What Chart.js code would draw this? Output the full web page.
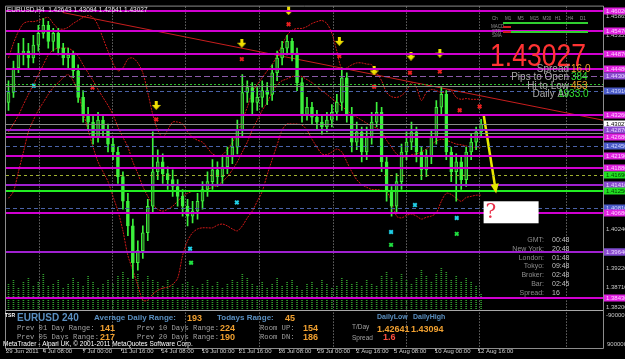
<!DOCTYPE html>
<html>
<head>
<meta charset="utf-8">
<script src="https://cdn.jsdelivr.net/npm/chart.js"></script>
<style>
html, body { margin: 0; padding: 0; background: #000; }
canvas { display: block; }
</style>
</head>
<body>
<canvas id="eurusd-h4" width="625" height="359"></canvas>
<script>
// EURUSD H4, 29 Jun - 12 Aug 2011. one entry = roughly two H4 bars
var opens = [1.4360, 1.4386, 1.4451, 1.4490, 1.4495, 1.4477, 1.4511, 1.4542, 1.4563, 1.4521,
    1.4542, 1.4503, 1.4477, 1.4485, 1.4443, 1.4373, 1.4328, 1.4308, 1.4268, 1.4313,
    1.4287, 1.4250, 1.4229, 1.4164, 1.4099, 1.4034, 1.3937, 1.3969, 1.4016, 1.4086,
    1.4177, 1.4203, 1.4172, 1.4156, 1.4138, 1.4112, 1.4086, 1.4060, 1.4073, 1.4099,
    1.4130, 1.4151, 1.4182, 1.4164, 1.4190, 1.4216, 1.4242, 1.4287, 1.4386, 1.4399,
    1.4360, 1.4373, 1.4391, 1.4381, 1.4438, 1.4477, 1.4503, 1.4521, 1.4490, 1.4412,
    1.4328, 1.4347, 1.4321, 1.4308, 1.4295, 1.4313, 1.4334, 1.4360, 1.4425, 1.4328,
    1.4255, 1.4282, 1.4229, 1.4268, 1.4308, 1.4334, 1.4203, 1.4125, 1.4086, 1.4151,
    1.4229, 1.4255, 1.4282, 1.4229, 1.4182, 1.4216, 1.4268, 1.4347, 1.4381, 1.4229,
    1.4177, 1.4203, 1.4156, 1.4229, 1.4255, 1.4282];
var highs = [1.4417, 1.4469, 1.4516, 1.4529, 1.4516, 1.4537, 1.4563, 1.4581, 1.4574, 1.4555,
    1.4555, 1.4516, 1.4503, 1.4495, 1.4459, 1.4391, 1.4347, 1.4328, 1.4334, 1.4328,
    1.4303, 1.4268, 1.4242, 1.4177, 1.4120, 1.4052, 1.3995, 1.4034, 1.4104, 1.4282,
    1.4235, 1.4224, 1.4190, 1.4182, 1.4156, 1.4130, 1.4104, 1.4099, 1.4120, 1.4151,
    1.4177, 1.4209, 1.4203, 1.4216, 1.4242, 1.4268, 1.4313, 1.4433, 1.4417, 1.4412,
    1.4399, 1.4417, 1.4412, 1.4459, 1.4495, 1.4521, 1.4537, 1.4529, 1.4503, 1.4425,
    1.4373, 1.4360, 1.4339, 1.4328, 1.4334, 1.4354, 1.4381, 1.4451, 1.4438, 1.4347,
    1.4308, 1.4295, 1.4295, 1.4334, 1.4360, 1.4347, 1.4216, 1.4138, 1.4172, 1.4250,
    1.4282, 1.4308, 1.4295, 1.4242, 1.4235, 1.4287, 1.4365, 1.4399, 1.4391, 1.4242,
    1.4224, 1.4216, 1.4242, 1.4276, 1.4295, 1.4315];
var lows = [1.4339, 1.4373, 1.4438, 1.4459, 1.4451, 1.4464, 1.4495, 1.4529, 1.4503, 1.4495,
    1.4485, 1.4459, 1.4451, 1.4425, 1.4360, 1.4308, 1.4287, 1.4250, 1.4255, 1.4268,
    1.4229, 1.4209, 1.4146, 1.4078, 1.4008, 1.3896, 1.3917, 1.3948, 1.3995, 1.4068,
    1.4156, 1.4146, 1.4130, 1.4112, 1.4086, 1.4060, 1.4034, 1.4042, 1.4052, 1.4078,
    1.4112, 1.4130, 1.4138, 1.4146, 1.4172, 1.4198, 1.4224, 1.4268, 1.4360, 1.4328,
    1.4339, 1.4347, 1.4354, 1.4365, 1.4417, 1.4459, 1.4485, 1.4469, 1.4391, 1.4308,
    1.4313, 1.4303, 1.4287, 1.4276, 1.4282, 1.4295, 1.4313, 1.4339, 1.4308, 1.4229,
    1.4235, 1.4203, 1.4209, 1.4250, 1.4295, 1.4177, 1.4099, 1.4060, 1.4068, 1.4130,
    1.4209, 1.4235, 1.4203, 1.4156, 1.4164, 1.4198, 1.4250, 1.4328, 1.4209, 1.4151,
    1.4099, 1.4130, 1.4138, 1.4209, 1.4235, 1.4268];
var closes = [1.4386, 1.4451, 1.4490, 1.4495, 1.4477, 1.4511, 1.4542, 1.4563, 1.4521, 1.4542,
    1.4503, 1.4477, 1.4485, 1.4443, 1.4373, 1.4328, 1.4308, 1.4268, 1.4313, 1.4287,
    1.4250, 1.4229, 1.4164, 1.4099, 1.4034, 1.3937, 1.3969, 1.4016, 1.4086, 1.4177,
    1.4203, 1.4172, 1.4156, 1.4138, 1.4112, 1.4086, 1.4060, 1.4073, 1.4099, 1.4130,
    1.4151, 1.4182, 1.4164, 1.4190, 1.4216, 1.4242, 1.4287, 1.4386, 1.4399, 1.4360,
    1.4373, 1.4391, 1.4381, 1.4438, 1.4477, 1.4503, 1.4521, 1.4490, 1.4412, 1.4328,
    1.4347, 1.4321, 1.4308, 1.4295, 1.4313, 1.4334, 1.4360, 1.4425, 1.4328, 1.4255,
    1.4282, 1.4229, 1.4268, 1.4308, 1.4334, 1.4203, 1.4125, 1.4086, 1.4151, 1.4229,
    1.4255, 1.4282, 1.4229, 1.4182, 1.4216, 1.4268, 1.4347, 1.4381, 1.4229, 1.4177,
    1.4203, 1.4156, 1.4229, 1.4255, 1.4282, 1.43027];
var volumes = [2600, 3100, 2200, 2800, 3300, 2500, 2900, 3600, 2400, 2700,
    3000, 2300, 2600, 3200, 2800, 2500, 3400, 2900, 2200, 2700,
    3000, 2600, 3500, 3800, 3300, 4100, 3600, 2900, 3400, 3100,
    2800, 2500, 3000, 2700, 2300, 2600, 2900, 2400, 2200, 2700,
    3000, 2500, 2800, 2300, 2600, 3100, 2900, 3700, 3200, 2600,
    2400, 2900, 2200, 2700, 3300, 2500, 2800, 3000, 2400, 2100,
    2600, 2900, 2300, 3100, 2700, 2200, 2500, 3300, 3000, 2600,
    2800, 2400, 3100, 2700, 2500, 3500, 3900, 3200, 2800, 3600,
    3000, 2700, 3300, 4100, 3400, 2900, 3700, 4300, 3800, 3100,
    3500, 2900, 3300, 2800, 2400, 1600];

// bollinger bands
var bandUpper = [1.4477, 1.4516, 1.4547, 1.4568, 1.4573, 1.4573, 1.4576, 1.4581, 1.4584, 1.4568,
    1.4555, 1.4553, 1.4558, 1.4568, 1.4576, 1.4584, 1.4589, 1.4584, 1.4563, 1.4529,
    1.4495, 1.4464, 1.4443, 1.4451, 1.4474, 1.4477, 1.4464, 1.4438, 1.4386, 1.4328,
    1.4287, 1.4268, 1.4287, 1.4308, 1.4308, 1.4303, 1.4282, 1.4268, 1.4260, 1.4255,
    1.4240, 1.4224, 1.4219, 1.4222, 1.4235, 1.4255, 1.4276, 1.4313, 1.4347, 1.4386,
    1.4407, 1.4425, 1.4443, 1.4459, 1.4485, 1.4511, 1.4537, 1.4550, 1.4555, 1.4555,
    1.4560, 1.4568, 1.4573, 1.4576, 1.4568, 1.4542, 1.4495, 1.4448, 1.4451, 1.4459,
    1.4464, 1.4464, 1.4461, 1.4459, 1.4438, 1.4417, 1.4386, 1.4375, 1.4373, 1.4378,
    1.4391, 1.4412, 1.4399, 1.4365, 1.4386, 1.4394, 1.4391, 1.4386, 1.4388, 1.4391,
    1.4373, 1.4368, 1.4370, 1.4368, 1.4368, 1.4368];
var bandMiddle = [1.4282, 1.4303, 1.4326, 1.4354, 1.4381, 1.4407, 1.4433, 1.4459, 1.4485, 1.4498,
    1.4503, 1.4503, 1.4503, 1.4495, 1.4482, 1.4459, 1.4438, 1.4417, 1.4394, 1.4373,
    1.4352, 1.4328, 1.4295, 1.4268, 1.4242, 1.4203, 1.4172, 1.4138, 1.4112, 1.4091,
    1.4078, 1.4073, 1.4078, 1.4086, 1.4099, 1.4112, 1.4120, 1.4125, 1.4125, 1.4125,
    1.4130, 1.4136, 1.4141, 1.4151, 1.4164, 1.4182, 1.4203, 1.4229, 1.4255, 1.4287,
    1.4313, 1.4339, 1.4360, 1.4386, 1.4407, 1.4417, 1.4422, 1.4428, 1.4430, 1.4428,
    1.4420, 1.4412, 1.4401, 1.4391, 1.4381, 1.4370, 1.4360, 1.4349, 1.4339, 1.4328,
    1.4321, 1.4313, 1.4305, 1.4297, 1.4292, 1.4282, 1.4260, 1.4242, 1.4224, 1.4216,
    1.4216, 1.4222, 1.4224, 1.4229, 1.4237, 1.4248, 1.4258, 1.4263, 1.4260, 1.4255,
    1.4250, 1.4248, 1.4245, 1.4242, 1.4242, 1.4242];
var bandLower = [1.4107, 1.4125, 1.4177, 1.4229, 1.4282, 1.4313, 1.4339, 1.4360, 1.4381, 1.4399,
    1.4412, 1.4425, 1.4433, 1.4417, 1.4386, 1.4334, 1.4287, 1.4242, 1.4203, 1.4177,
    1.4151, 1.4112, 1.4073, 1.4021, 1.3956, 1.3917, 1.3877, 1.3838, 1.3838, 1.3854,
    1.3864, 1.3870, 1.3872, 1.3880, 1.3896, 1.3956, 1.3995, 1.4016, 1.4026, 1.4029,
    1.4029, 1.4029, 1.4036, 1.4039, 1.4034, 1.4026, 1.4021, 1.4034, 1.4055, 1.4073,
    1.4099, 1.4125, 1.4169, 1.4209, 1.4248, 1.4287, 1.4303, 1.4303, 1.4303, 1.4300,
    1.4287, 1.4263, 1.4242, 1.4224, 1.4222, 1.4229, 1.4237, 1.4229, 1.4203, 1.4177,
    1.4156, 1.4143, 1.4136, 1.4130, 1.4130, 1.4128, 1.4125, 1.4099, 1.4060, 1.4055,
    1.4062, 1.4065, 1.4060, 1.4052, 1.4057, 1.4060, 1.4068, 1.4099, 1.4120, 1.4117,
    1.4107, 1.4099, 1.4109, 1.4112, 1.4115, 1.4115];

var timeTicks = [-0.5, 6.9, 14.9, 22.7, 30.7, 38.9, 46.3, 54.3, 62.1, 69.9, 77.5, 85.7, 94.3];
var timeLabels = ['29 Jun 2011', '4 Jul 08:00', '7 Jul 00:00', '11 Jul 16:00', '14 Jul 08:00',
    '19 Jul 00:00', '21 Jul 16:00', '26 Jul 08:00', '29 Jul 00:00', '2 Aug 16:00',
    '5 Aug 08:00', '10 Aug 00:00', '12 Aug 16:00'];
var weekSeparators = [6.1, 20.9, 35.5, 50.3, 65.3, 79.9, 94.5, 112.1];
var priceTicks = [1.45865, 1.45355, 1.40240, 1.39220, 1.38710, 1.38200];

var levelPrices = [1.4602, 1.4547, 1.4487, 1.4448, 1.4430, 1.4409, 1.4404, 1.4391, 1.4326, 1.43027,
    1.4287, 1.4279, 1.4268, 1.4245, 1.4219, 1.4188, 1.4169, 1.4141, 1.4125, 1.4081,
    1.4068, 1.3966, 1.3964, 1.3843];
var levelKinds = ['magenta', 'magenta', 'magenta', 'magenta', 'purpleDash', 'greenDot', 'gray', 'blueDash', 'magenta', 'current',
    'purple', 'gray', 'magenta', 'blueDash', 'magenta', 'magenta', 'yellowDash', 'purple', 'green', 'blueDash',
    'magenta', 'blueDash', 'purple', 'magenta'];

// [bar index, price]
var fractalArrows = [[29.7, 1.4352], [46.9, 1.4516], [56.3, 1.4602], [66.5, 1.4521], [73.5, 1.4443], [80.9, 1.4482], [86.7, 1.4490]];
var redMarks = [[16.9, 1.4399], [29.7, 1.4315], [46.9, 1.4474], [56.3, 1.4566], [66.5, 1.4482], [73.5, 1.4401], [80.7, 1.4438], [86.7, 1.4441], [90.7, 1.4339], [94.7, 1.4349]];
var cyanMarks = [[5.1, 1.4404], [36.5, 1.3974], [45.9, 1.4096], [76.9, 1.4018], [81.7, 1.4089], [90.1, 1.4055]];
var greenMarks = [[36.7, 1.3937], [76.9, 1.3984], [90.1, 1.4013]];
var trendLine = [[10.9, 1.4597], [119.5, 1.4313]];
var targetArrow = [[95.5, 1.4328], [97.9, 1.4130]];
var noteAnchor = [95.5, 1.4099];

var LIME = '#3cf03c';

var levelStyle = {
    magenta: { color: '#d000d0', width: 2, dash: [] },
    purple: { color: '#a020d0', width: 2, dash: [] },
    gray: { color: '#8a8a8a', width: 1, dash: [] },
    current: { color: '#8a8a8a', width: 1, dash: [] },
    green: { color: '#22ee22', width: 2, dash: [] },
    purpleDash: { color: '#8a5aa8', width: 1, dash: [6, 3] },
    blueDash: { color: '#4a62a8', width: 1, dash: [4, 3] },
    greenDot: { color: '#2cc02c', width: 1, dash: [2, 2] },
    yellowDash: { color: '#a0b030', width: 1, dash: [3, 3] }
};
var boxStyle = {
    magenta: ['#e020e0', '#ffd0ff'],
    purple: ['#8a4ad0', '#e8d8ff'],
    purpleDash: ['#8a4ad0', '#e8d8ff'],
    blueDash: ['#4a5ac8', '#d0d8ff'],
    green: ['#22e022', '#004400'],
    yellowDash: ['#22e022', '#004400'],
    current: ['#ffffff', '#000000']
};

function pairs(list) {
    return list.map(function (p) { return { x: p[0], y: p[1] }; });
}

function arrowIcon() {
    var c = document.createElement('canvas');
    c.width = 9; c.height = 9;
    var g = c.getContext('2d');
    g.fillStyle = '#f0e000';
    g.fillRect(3, 0, 3, 4);
    g.beginPath(); g.moveTo(0, 4); g.lineTo(9, 4); g.lineTo(4.5, 9); g.closePath(); g.fill();
    return c;
}

var ctx = document.getElementById('eurusd-h4').getContext('2d');

var dots = document.createElement('canvas');
dots.width = 1; dots.height = 2;
var dctx = dots.getContext('2d');
dctx.fillStyle = '#2f9a2c';
dctx.fillRect(0, 0, 1, 1);
var volPattern = ctx.createPattern(dots, 'repeat');

function txt(c, s, x, y, color, font, align) {
    c.font = font;
    c.fillStyle = color;
    c.textAlign = align || 'left';
    c.textBaseline = 'middle';
    c.fillText(s, x, y);
}

var mt4Overlay = {
    id: 'mt4Overlay',
    beforeDraw: function (chart) {
        var c = chart.ctx;
        c.save();
        c.fillStyle = '#000';
        c.fillRect(0, 0, chart.width, chart.height);
        c.restore();
    },
    beforeDatasetsDraw: function (chart) {
        var c = chart.ctx, a = chart.chartArea, xs = chart.scales.x;
        c.save();
        c.strokeStyle = '#9c9c9c';
        c.lineWidth = 1;
        c.setLineDash([1, 2]);
        weekSeparators.forEach(function (s) {
            var px = Math.round(xs.getPixelForValue(s)) + 0.5;
            c.beginPath(); c.moveTo(px, a.top); c.lineTo(px, a.bottom + 38); c.stroke();
        });
        c.restore();
    },
    afterDatasetsDraw: function (chart) {
        var c = chart.ctx, a = chart.chartArea, xs = chart.scales.x, ys = chart.scales.y;
        c.save();
        levelPrices.forEach(function (p, i) {
            var st = levelStyle[levelKinds[i]];
            var y = Math.round(ys.getPixelForValue(p)) + (st.width % 2 ? 0.5 : 0);
            c.strokeStyle = st.color;
            c.lineWidth = st.width;
            c.setLineDash(st.dash);
            c.beginPath(); c.moveTo(a.left, y); c.lineTo(a.right, y); c.stroke();
        });
        c.setLineDash([]);

        // head of the yellow target arrow
        var meta = chart.getDatasetMeta(chart.data.datasets.length - 1);
        var p0 = meta.data[0], p1 = meta.data[1];
        var ang = Math.atan2(p1.y - p0.y, p1.x - p0.x);
        c.fillStyle = '#e8e800';
        c.beginPath();
        c.moveTo(p1.x + Math.cos(ang) * 4, p1.y + Math.sin(ang) * 4);
        c.lineTo(p1.x + Math.cos(ang + 2.5) * 7, p1.y + Math.sin(ang + 2.5) * 7);
        c.lineTo(p1.x + Math.cos(ang - 2.5) * 7, p1.y + Math.sin(ang - 2.5) * 7);
        c.closePath(); c.fill();

        // "?" label
        var nx = xs.getPixelForValue(noteAnchor[0]), ny = ys.getPixelForValue(noteAnchor[1]);
        c.fillStyle = '#ffffff';
        c.fillRect(nx, ny, 55, 22);
        txt(c, '?', nx + 2, ny + 12, '#e8304a', '20px "DejaVu Serif"');
        c.restore();
    },
    afterDraw: function (chart) {
        var c = chart.ctx, a = chart.chartArea, xs = chart.scales.x, ys = chart.scales.y;
        var sans = '"Liberation Sans"';
        c.save();

        // frame
        c.strokeStyle = '#8c8c8c';
        c.lineWidth = 1;
        c.beginPath();
        c.moveTo(a.left - 0.5, a.top - 0.5); c.lineTo(a.right + 0.5, a.top - 0.5);
        c.moveTo(a.left - 0.5, a.top - 0.5); c.lineTo(a.left - 0.5, a.bottom + 38.5);
        c.moveTo(a.left - 0.5, a.bottom + 38.5); c.lineTo(a.right + 0.5, a.bottom + 38.5);
        c.moveTo(a.right + 0.5, a.bottom); c.lineTo(a.right + 0.5, a.bottom + 38.5);
        c.stroke();
        c.strokeStyle = '#a8a8a8';
        c.beginPath(); c.moveTo(a.left, a.bottom + 0.5); c.lineTo(a.right, a.bottom + 0.5); c.stroke();
        timeTicks.forEach(function (t) {
            var px = Math.round(xs.getPixelForValue(t)) + 0.5;
            c.beginPath(); c.moveTo(px, a.bottom + 38.5); c.lineTo(px, a.bottom + 41); c.stroke();
        });

        // level tags on the price axis
        levelPrices.forEach(function (p, i) {
            var bs = boxStyle[levelKinds[i]];
            if (!bs) return;
            var y = Math.round(ys.getPixelForValue(p));
            c.fillStyle = bs[0];
            c.fillRect(a.right + 1, y - 3.5, 22, 7);
            txt(c, p.toFixed(5), a.right + 3, y, bs[1], '6px ' + sans);
        });
        txt(c, '-9000000', a.right + 3, a.bottom + 5, '#c8c8c8', '6px ' + sans);
        txt(c, '9000000', a.right + 4, a.bottom + 34, '#c8c8c8', '6px ' + sans);

        // header
        txt(c, 'EURUSD,H4  1.42643 1.43094 1.42641 1.43027', a.left + 1, a.top + 4, '#e8e8e8', '6.5px ' + sans);

        // timeframe matrix
        txt(c, 'Ch', 492, 19, '#909090', '4.5px ' + sans);
        ['M1', 'M5', 'M15', 'M30', 'H1', 'H4', 'D1'].forEach(function (s, i) {
            txt(c, s, 505 + i * 12.5, 19, '#909090', '4.5px ' + sans);
        });
        txt(c, 'MACD', 491, 27, '#909090', '4.5px ' + sans);
        txt(c, 'STR', 492, 32, '#909090', '4.5px ' + sans);
        txt(c, 'SMA', 492, 36, '#909090', '4.5px ' + sans);
        c.fillStyle = '#30d030'; c.fillRect(503, 22, 85, 2);
        c.fillStyle = '#d02020'; c.fillRect(503, 26, 8, 2);
        c.fillStyle = '#d02020'; c.fillRect(503, 31, 8, 2);
        c.fillStyle = '#30d030'; c.fillRect(511, 31, 77, 2);

        // big price and stats
        c.font = '32px ' + sans;
        c.fillStyle = '#ff3333';
        c.textAlign = 'left';
        c.textBaseline = 'alphabetic';
        c.fillText('1.43027', 490, 66, 96);
        var statFont = '10px ' + sans;
        txt(c, 'Spread', 569, 69, '#a8a8a8', statFont, 'right');
        txt(c, '16.0', 571, 69, '#f0a030', statFont);
        txt(c, 'Pips to Open', 569, 77.5, '#a8a8a8', statFont, 'right');
        txt(c, '384', 571, 77.5, '#30e030', statFont);
        txt(c, 'Hi to Low', 569, 86, '#a8a8a8', statFont, 'right');
        txt(c, '453', 571, 86, '#f0a030', statFont);
        txt(c, 'Daily Av', 569, 94.5, '#a8a8a8', statFont, 'right');
        txt(c, '1933.0', 558, 94.5, '#30e030', statFont);

        // clocks
        var clocks = [['GMT:', '00:48'], ['New York:', '20:48'], ['London:', '01:48'], ['Tokyo:', '09:48'],
            ['Broker:', '02:48'], ['Bar:', '02:45'], ['Spread:', '16']];
        clocks.forEach(function (r, i) {
            txt(c, r[0], 544, 240 + i * 8.8, '#8c8c8c', '7px ' + sans, 'right');
            txt(c, r[1], 552, 240 + i * 8.8, '#c0c0c0', '7px ' + sans);
        });

        // info panel
        var b = a.bottom;
        var blue = '#5a8fc0', orange = '#f0a030', mono = '7.2px "Liberation Mono"', grey = '#a0a0a0';
        txt(c, 'TSR', 5, b + 6, '#ffffff', 'bold 5px ' + sans);
        txt(c, 'EURUSD 240', 17, b + 8, blue, 'bold 10px ' + sans);
        txt(c, 'Average Daily Range:', 94, b + 8, blue, 'bold 8px ' + sans);
        txt(c, '193', 187, b + 9, orange, 'bold 9px ' + sans);
        txt(c, 'Todays Range:', 217, b + 8, blue, 'bold 8px ' + sans);
        txt(c, '45', 285, b + 9, orange, 'bold 9px ' + sans);
        txt(c, 'DailyLow', 377, b + 7, blue, 'bold 7px ' + sans);
        txt(c, 'DailyHigh', 413, b + 7, blue, 'bold 7px ' + sans);
        txt(c, 'Prev 01 Day Range:', 17, b + 18, grey, mono);
        txt(c, '141', 100, b + 19, orange, 'bold 9px ' + sans);
        txt(c, 'Prev 05 Days Range:', 17, b + 27, grey, mono);
        txt(c, '217', 100, b + 28, orange, 'bold 9px ' + sans);
        txt(c, 'Prev 10 Days Range:', 137, b + 18, grey, mono);
        txt(c, '224', 220, b + 19, orange, 'bold 9px ' + sans);
        txt(c, 'Prev 20 Days Range:', 137, b + 27, grey, mono);
        txt(c, '190', 220, b + 28, orange, 'bold 9px ' + sans);
        txt(c, 'Room UP:', 260, b + 18, grey, mono);
        txt(c, '154', 303, b + 19, orange, 'bold 9px ' + sans);
        txt(c, 'Room DN:', 260, b + 27, grey, mono);
        txt(c, '186', 303, b + 28, orange, 'bold 9px ' + sans);
        txt(c, 'T/Day', 352, b + 17, grey, '6.5px ' + sans);
        txt(c, '1.42641', 377, b + 20, orange, 'bold 9px ' + sans);
        txt(c, '1.43094', 411, b + 20, orange, 'bold 9px ' + sans);
        txt(c, 'Spread', 352, b + 28, grey, '6.5px ' + sans);
        txt(c, '1.6', 383, b + 28, '#ff5040', 'bold 9px ' + sans);
        txt(c, 'MetaTrader - Alpari UK, \u00a9 2001-2011 MetaQuotes Software Corp.', 3, b + 34, '#ffffff', '6.5px ' + sans);
        c.restore();
    }
};

new Chart(ctx, {
    type: 'bar',
    data: {
        datasets: [
            {
                type: 'bar', label: 'Volume', yAxisID: 'yv', order: 10,
                data: volumes.map(function (v, i) { return { x: i, y: v }; }),
                backgroundColor: volPattern, barThickness: 1
            },
            {
                type: 'line', label: 'Upper band', order: 6,
                data: bandUpper.map(function (v, i) { return { x: i, y: v }; }),
                borderColor: '#d01818', borderWidth: 1, borderDash: [2, 1], pointRadius: 0, tension: 0.3
            },
            {
                type: 'line', label: 'Middle band', order: 6,
                data: bandMiddle.map(function (v, i) { return { x: i, y: v }; }),
                borderColor: '#d01818', borderWidth: 1, borderDash: [2, 1], pointRadius: 0, tension: 0.3
            },
            {
                type: 'line', label: 'Lower band', order: 6,
                data: bandLower.map(function (v, i) { return { x: i, y: v }; }),
                borderColor: '#d01818', borderWidth: 1, borderDash: [2, 1], pointRadius: 0, tension: 0.3
            },
            {
                type: 'line', label: 'Trend', order: 7,
                data: pairs(trendLine),
                borderColor: '#c81e1e', borderWidth: 1, pointRadius: 0
            },
            {
                type: 'bar', label: 'Wicks', order: 4,
                data: lows.map(function (l, i) { return { x: i, y: [l, highs[i]] }; }),
                backgroundColor: LIME, barThickness: 1
            },
            {
                type: 'bar', label: 'Bodies', order: 3,
                data: opens.map(function (o, i) { return { x: i, y: [o, closes[i]] }; }),
                backgroundColor: opens.map(function (o, i) { return closes[i] >= o ? '#2a6a22' : LIME; }),
                borderColor: LIME, borderWidth: 1, borderSkipped: false, barThickness: 3
            },
            {
                type: 'scatter', label: 'Fractals', order: 1,
                data: pairs(fractalArrows), pointStyle: arrowIcon(), pointRadius: 4
            },
            {
                type: 'scatter', label: 'Red', order: 1,
                data: pairs(redMarks), pointStyle: 'crossRot', pointRadius: 2.5,
                borderColor: '#e82020', borderWidth: 2, backgroundColor: '#e82020'
            },
            {
                type: 'scatter', label: 'Cyan', order: 1,
                data: pairs(cyanMarks), pointStyle: 'crossRot', pointRadius: 2.5,
                borderColor: '#20d0e8', borderWidth: 2, backgroundColor: '#20d0e8'
            },
            {
                type: 'scatter', label: 'Green', order: 1,
                data: pairs(greenMarks), pointStyle: 'crossRot', pointRadius: 2.5,
                borderColor: '#20e040', borderWidth: 2, backgroundColor: '#20e040'
            },
            {
                type: 'line', label: 'Target', order: 0,
                data: pairs(targetArrow),
                borderColor: '#e8e800', borderWidth: 2.5, pointRadius: 0
            }
        ]
    },
    options: {
        responsive: false,
        animation: false,
        devicePixelRatio: 1,
        layout: { padding: { top: 3, left: 3, right: 0, bottom: 0 } },
        datasets: { bar: { grouped: false } },
        plugins: {
            legend: { display: false },
            tooltip: { enabled: false }
        },
        scales: {
            x: {
                type: 'linear', min: -0.5, max: 119.5, offset: false,
                grid: { display: false, drawTicks: true, tickLength: 38 },
                border: { display: true, color: '#a8a8a8' },
                ticks: {
                    color: '#d0d0d0', font: { family: 'Liberation Sans', size: 6 },
                    padding: 0, align: 'start', autoSkip: false, maxRotation: 0,
                    callback: function (v, i) { return timeLabels[i]; }
                },
                afterBuildTicks: function (s) {
                    s.ticks = timeTicks.map(function (v) { return { value: v }; });
                },
                afterFit: function (s) { s.height = 49; }
            },
            y: {
                position: 'right', min: 1.38122, max: 1.46126,
                grid: { display: false, drawTicks: false },
                border: { display: true, color: '#8c8c8c' },
                ticks: {
                    color: '#c8c8c8', font: { family: 'Liberation Sans', size: 6 },
                    padding: 3, autoSkip: false,
                    callback: function (v) { return v.toFixed(5); }
                },
                afterBuildTicks: function (s) {
                    s.ticks = priceTicks.map(function (v) { return { value: v }; });
                },
                afterFit: function (s) { s.width = 22; }
            },
            yv: { display: false, min: 0, max: 30700 }
        }
    },
    plugins: [mt4Overlay]
});
</script>
</body>
</html>
